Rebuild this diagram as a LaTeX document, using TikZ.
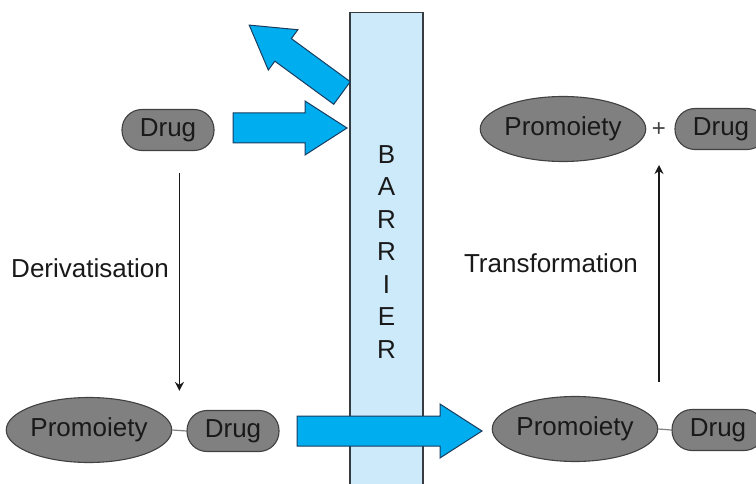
\documentclass[tikz,border=0pt]{standalone}
\usepackage{fontspec}
\setmainfont{Liberation Sans}
\usetikzlibrary{shapes.geometric, calc, arrows.meta}

\definecolor{barrierblue}{RGB}{204,234,250}
\definecolor{barrieredge}{RGB}{55,60,65}
\definecolor{arrowblue}{RGB}{0,174,239}
\definecolor{arrowedge}{RGB}{25,60,95}
\definecolor{moiety}{RGB}{128,128,128}
\definecolor{moietyedge}{RGB}{65,65,65}
\definecolor{labeltext}{RGB}{25,25,25}

\tikzset{
	bigfont/.style = {font=\fontsize{26}{30}\selectfont},
	drugbox/.style = {draw=moietyedge, fill=moiety, line width=1.1pt, rounded corners=20pt, minimum width=92pt, minimum height=41pt, inner sep=0pt, text=labeltext, bigfont},
	promoiety/.style = {draw=moietyedge, fill=moiety, line width=1.1pt, ellipse, minimum width=162pt, minimum height=65pt, inner sep=0pt, text=labeltext, bigfont},
	blockarrow/.style = {draw=arrowedge, fill=arrowblue, line width=1pt, line join=miter},
	thinarrow/.style = {-{Stealth[length=9pt, width=9pt]}, line width=1.3pt, draw=labeltext},
	link/.style = {draw=gray, line width=1.2pt}
}

\begin{document}
\begin{tikzpicture}[x=1pt, y=-1pt]
		\def\shaft{15};
		\def\head{27};
		\def\headlength{42};
		
		\useasboundingbox (0,0) rectangle (756,484);
		
		% barrier
		\node [draw=barrieredge, fill=barrierblue, line width=1.2pt, minimum width=73pt, minimum height=480pt, inner sep=0pt, anchor=north] (barrier) at (386.5,12) {};
		\foreach \ch [count=\i] in {B,A,R,R,I,E,R}
			\node [bigfont, text=labeltext] (letter\i) at (386.5, {122 + 32.5*\i}) {\ch};
		
		% molecules
		\node [drugbox] (drugtop) at (168,130) {Drug};
		\node [promoiety] (probottom) at (89,430) {Promoiety};
		\node [drugbox] (drugbottom) at (233,431) {Drug};
		\node [promoiety] (proright) at (575,429) {Promoiety};
		\node [drugbox] (drugright) at (718,430) {Drug};
		\node [promoiety] (proresult) at (563,129) {Promoiety};
		\node [text=moietyedge, font=\fontsize{24}{28}\selectfont] (plus) at (659,130) {+};
		\node [drugbox] (drugresult) at (721,129) {Drug};
		
		\draw [link] (probottom.east) -- (drugbottom.west);
		\draw [link] (proright.east) -- (drugright.west);
		\coordinate (linkleft) at ($(probottom.east)!0.5!(drugbottom.west)$);
		
		% steps
		\draw [thinarrow] ([yshift=-22pt]drugtop.south -| linkleft) -- ([yshift=6pt]probottom.north -| linkleft);
		\draw [thinarrow] ([yshift=14pt]proright.north -| plus) -- ([yshift=-35pt]plus.center);
		\node [bigfont, text=labeltext] (derivatisation) at (90,268) {Derivatisation};
		\node [bigfont, text=labeltext] (transformation) at (551,263) {Transformation};
		
		% block arrows
		\draw [blockarrow] (233,{128-\shaft}) -- ({347-\headlength},{128-\shaft}) -- ({347-\headlength},{128-\head}) -- (347,128) -- ({347-\headlength},{128+\head}) -- ({347-\headlength},{128+\shaft}) -- (233,{128+\shaft}) -- cycle;
		
		\begin{scope}[shift={(342,93)}, rotate=143.8]
			\draw [blockarrow] (0,-14) -- ({115-\headlength},-14) -- ({115-\headlength},-25) -- (115,0) -- ({115-\headlength},25) -- ({115-\headlength},14) -- (0,14) -- cycle;
		\end{scope}
		
		\draw [blockarrow] (297,{431-\shaft}) -- ({482-\headlength},{431-\shaft}) -- ({482-\headlength},{431-\head}) -- (482,431) -- ({482-\headlength},{431+\head}) -- ({482-\headlength},{431+\shaft}) -- (297,{431+\shaft}) -- cycle;
	\end{tikzpicture}
\end{document}
